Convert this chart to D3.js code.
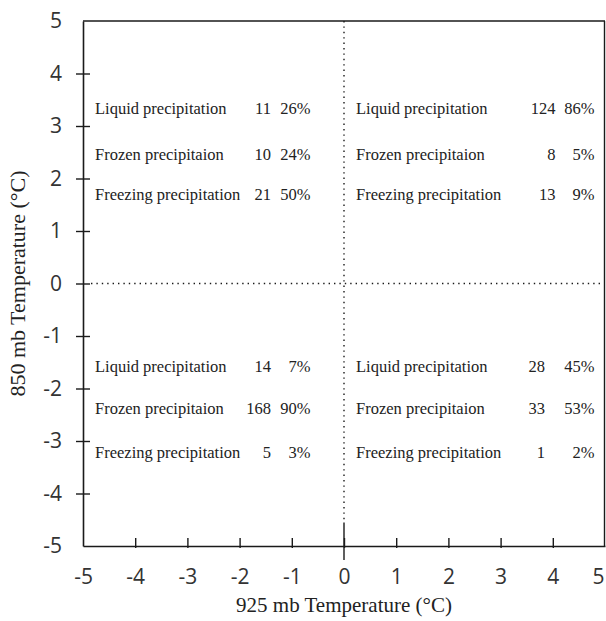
<!DOCTYPE html>
<html>
<head>
<meta charset="utf-8">
<script src="https://cdn.jsdelivr.net/npm/d3@7"></script>
<style>
  body { margin: 0; background: #fff; }
  svg { display: block; }
</style>
</head>
<body>
<div id="chart"></div>
<script>
(function(){

// ---- data ----
const categories = ["Liquid precipitation", "Frozen precipitaion", "Freezing precipitation"];
const quadrants = ["upper-left", "upper-right", "lower-left", "lower-right"];
const counts = [
  [11, 10, 21],
  [124, 8, 13],
  [14, 168, 5],
  [28, 33, 1]
];
const percents = [
  [26, 24, 50],
  [86, 5, 9],
  [7, 90, 3],
  [45, 53, 2]
];
const tickValues = [-5, -4, -3, -2, -1, 0, 1, 2, 3, 4, 5];

const width = 606;
const height = 621;

const svg = d3.select("#chart")
  .append("svg")
  .attr("width", width)
  .attr("height", height);

// scales
const x = d3.scaleLinear().domain([-5, 5]).range([83, 605]);
const y = d3.scaleLinear().domain([-5, 5]).range([546, 21]);

const ink = "#1a1a1a";
const sans = "'Open Sans', 'Noto Sans', sans-serif";
const serif = "'Liberation Serif', 'Times New Roman', serif";
const fmt = d => String(d);   // plain hyphen minus like the original

// dotted zero lines
svg.append("line")
  .attr("x1", x(-5) + 8).attr("x2", x(5))
  .attr("y1", y(0)).attr("y2", y(0))
  .attr("stroke", ink).attr("stroke-width", 1.4)
  .attr("stroke-dasharray", "1.4,4");

svg.append("line")
  .attr("x1", x(0)).attr("x2", x(0))
  .attr("y1", y(5)).attr("y2", y(-4.55))
  .attr("stroke", ink).attr("stroke-width", 1.4)
  .attr("stroke-dasharray", "1.4,4");

// solid part of zero line near bottom
svg.append("line")
  .attr("x1", x(0)).attr("x2", x(0))
  .attr("y1", y(-4.55)).attr("y2", y(-5) + 14)
  .attr("stroke", ink).attr("stroke-width", 1.4);

// Y axis
const yAxis = svg.append("g")
  .attr("transform", `translate(${x(-5)},0)`)
  .call(d3.axisLeft(y).tickValues(tickValues).tickFormat(fmt)
    .tickSize(7).tickPadding(14).tickSizeOuter(0));

yAxis.selectAll(".tick line").attr("x2", 7).attr("x1", -7);
yAxis.selectAll(".tick")
  .filter(d => d === 5 || d === -5)
  .select("line").remove();

// X axis
const xAxis = svg.append("g")
  .attr("transform", `translate(0,${y(-5)})`)
  .call(d3.axisBottom(x).tickValues(tickValues).tickFormat(fmt)
    .tickSize(-8).tickPadding(23).tickSizeOuter(0));

xAxis.selectAll(".tick line").attr("y2", 2).attr("y1", -8);
xAxis.selectAll(".tick")
  .filter(d => d === 5 || d === -5)
  .select("line").remove();
// keep the last label inside the page
xAxis.selectAll(".tick")
  .filter(d => d === 5)
  .select("text").attr("dx", -7);

[yAxis, xAxis].forEach(g => {
  g.select(".domain").attr("stroke", ink).attr("stroke-width", 1.6);
  g.selectAll(".tick line").attr("stroke", ink).attr("stroke-width", 1.4);
  g.selectAll(".tick text")
    .attr("fill", "#333")
    .style("font-family", sans)
    .style("font-size", "21px");
});

// top and right border
svg.append("line")
  .attr("x1", x(-5)).attr("x2", x(5))
  .attr("y1", y(5)).attr("y2", y(5))
  .attr("stroke", ink).attr("stroke-width", 1.6);
svg.append("line")
  .attr("x1", x(5) - 0.5).attr("x2", x(5) - 0.5)
  .attr("y1", y(5)).attr("y2", y(-5))
  .attr("stroke", ink).attr("stroke-width", 1.4);

// axis titles
svg.append("text")
  .attr("x", x(0))
  .attr("y", 612)
  .attr("text-anchor", "middle")
  .attr("fill", "#222")
  .style("font-family", serif)
  .style("font-size", "21px")
  .text("925 mb Temperature (°C)");

svg.append("text")
  .attr("transform", `translate(25,${y(0)}) rotate(-90)`)
  .attr("text-anchor", "middle")
  .attr("fill", "#222")
  .style("font-family", serif)
  .style("font-size", "22px")
  .text("850 mb Temperature (°C)");

// quadrant tables (layout in data units)
const rowsTop = [3.33, 2.47, 1.71];
const rowsBottom = [-1.58, -2.38, -3.21];
const quadLayout = {
  "upper-left":  {x0: -5, rows: rowsTop,    countX: -1.40, pctX: -0.64},
  "upper-right": {x0: 0,  rows: rowsTop,    countX: 4.05,  pctX: 4.80},
  "lower-left":  {x0: -5, rows: rowsBottom, countX: -1.40, pctX: -0.64},
  "lower-right": {x0: 0,  rows: rowsBottom, countX: 3.85,  pctX: 4.80}
};

quadrants.forEach((q, qi) => {
  const L = quadLayout[q];
  const g = svg.append("g")
    .style("font-family", serif)
    .style("font-size", "16.5px")
    .attr("fill", "#222");

  const rows = g.selectAll("g.row")
    .data(categories)
    .enter()
    .append("g")
    .attr("class", "row")
    .attr("transform", (d, i) => `translate(0,${y(L.rows[i])})`);

  rows.append("text")
    .attr("x", x(L.x0) + 12)
    .attr("dy", "0.35em")
    .text(d => d);

  rows.append("text")
    .attr("x", x(L.countX))
    .attr("dy", "0.35em")
    .attr("text-anchor", "end")
    .text((d, i) => counts[qi][i]);

  rows.append("text")
    .attr("x", x(L.pctX))
    .attr("dy", "0.35em")
    .attr("text-anchor", "end")
    .text((d, i) => percents[qi][i] + "%");
});

})();
</script>
</body>
</html>
